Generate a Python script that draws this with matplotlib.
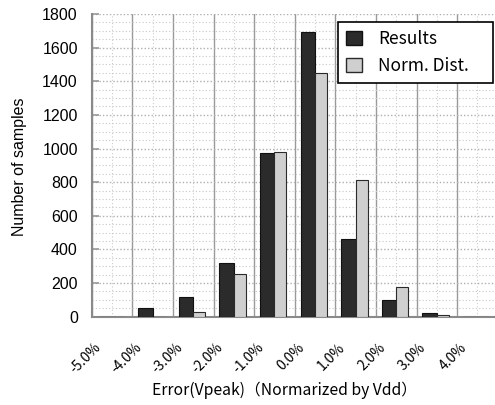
import matplotlib
matplotlib.use("Agg")
import matplotlib.pyplot as plt
from matplotlib.ticker import MultipleLocator, FixedLocator, NullFormatter
from matplotlib.transforms import ScaledTranslation
from matplotlib.patches import Patch

# Histogram of peak-voltage error (normalized by Vdd)
bins = ["-5.0%", "-4.0%", "-3.0%", "-2.0%", "-1.0%", "0.0%", "1.0%", "2.0%", "3.0%", "4.0%"]
results = [0, 52, 115, 320, 975, 1690, 465, 100, 24, 0]
norm_dist = [0, 0, 26, 252, 982, 1452, 810, 175, 10, 0]

JP = ["Noto Sans CJK JP", "DejaVu Sans"]
LAT = ["Liberation Sans", "DejaVu Sans"]

fig = plt.figure(figsize=(4.95, 4.05), dpi=100)
ax = fig.add_axes([91.7 / 495, 88.3 / 405, 406 / 495, (391 - 88.3) / 405])

idx = list(range(len(bins)))
ax.bar([i + 0.143 for i in idx], results, width=0.357, align="edge",
       color="#2b2b2b", edgecolor="#111111", linewidth=0.8, zorder=3, label="Results")
ax.bar([i + 0.5 for i in idx], norm_dist, width=0.296, align="edge",
       color="#cfcfcf", edgecolor="#2a2a2a", linewidth=0.8, zorder=3, label="Norm. Dist.")

ax.set_xlim(0, len(bins))
ax.set_ylim(0, 1800)

# category boundaries: solid grid; category centres: dotted grid + labels
ax.xaxis.set_major_locator(FixedLocator(range(len(bins) + 1)))
ax.xaxis.set_major_formatter(NullFormatter())
ax.set_xticks([i + 0.5 for i in idx], bins, minor=True)
ax.tick_params(axis="x", which="both", length=0)
ax.tick_params(axis="x", which="minor", pad=17)
for lab in ax.get_xticklabels(minor=True):
    lab.set_rotation(45)
    lab.set_ha("right")
    lab.set_va("top")
    lab.set_fontfamily(JP)
    lab.set_fontsize(10)
    lab.set_transform(lab.get_transform() + ScaledTranslation(-8 / 100, 0, fig.dpi_scale_trans))

ax.yaxis.set_major_locator(MultipleLocator(200))
ax.yaxis.set_minor_locator(MultipleLocator(50))
ax.tick_params(axis="y", which="major", direction="in", length=5, width=1.2,
               color="#999999", pad=10, labelsize=11.5)
ax.tick_params(axis="y", which="minor", length=0)
for lab in ax.get_yticklabels():
    lab.set_fontfamily(LAT)

ax.grid(True, axis="x", which="major", color="#9a9a9a", linewidth=1.0, linestyle="-", zorder=0)
ax.grid(True, axis="x", which="minor", color="#cccccc", linewidth=0.8, linestyle=(0, (1, 2)), zorder=0)
ax.grid(True, axis="y", which="major", color="#b0b0b0", linewidth=1.0, linestyle=(0, (1, 1.5)), zorder=0)
ax.grid(True, axis="y", which="minor", color="#c8c8c8", linewidth=0.8, linestyle=(0, (1, 2)), zorder=0)
ax.set_axisbelow(True)

for side in ("top", "right"):
    ax.spines[side].set_visible(False)
for side in ("left", "bottom"):
    ax.spines[side].set_color("#8a8a8a")
    ax.spines[side].set_linewidth(1.5)

handles = [Patch(facecolor="#2b2b2b", edgecolor="#111111", label="Results"),
           Patch(facecolor="#cfcfcf", edgecolor="#2a2a2a", label="Norm. Dist.")]
leg = ax.legend(handles=handles, loc="upper left", mode="expand",
                bbox_to_anchor=(338 / 495, 1 - 83 / 405, 155 / 495, 61 / 405),
                bbox_transform=fig.transFigure,
                prop={"family": JP, "size": 12.5}, frameon=True, fancybox=False,
                edgecolor="black", framealpha=1, borderpad=0.45, labelspacing=0.55,
                handlelength=0.92, handleheight=0.86, handletextpad=0.95, borderaxespad=0)
leg.get_frame().set_linewidth(1.2)

fig.text(20 / 495, 1 - 167 / 405, "Number of samples", rotation=90,
         ha="center", va="center", fontsize=11.5, family=LAT)
fig.text(284 / 495, 1 - 390 / 405, "Error(Vpeak)（Normarized by Vdd）",
         ha="center", va="center", fontsize=11.3, family=JP)

fig.savefig("out.png", dpi=100)
